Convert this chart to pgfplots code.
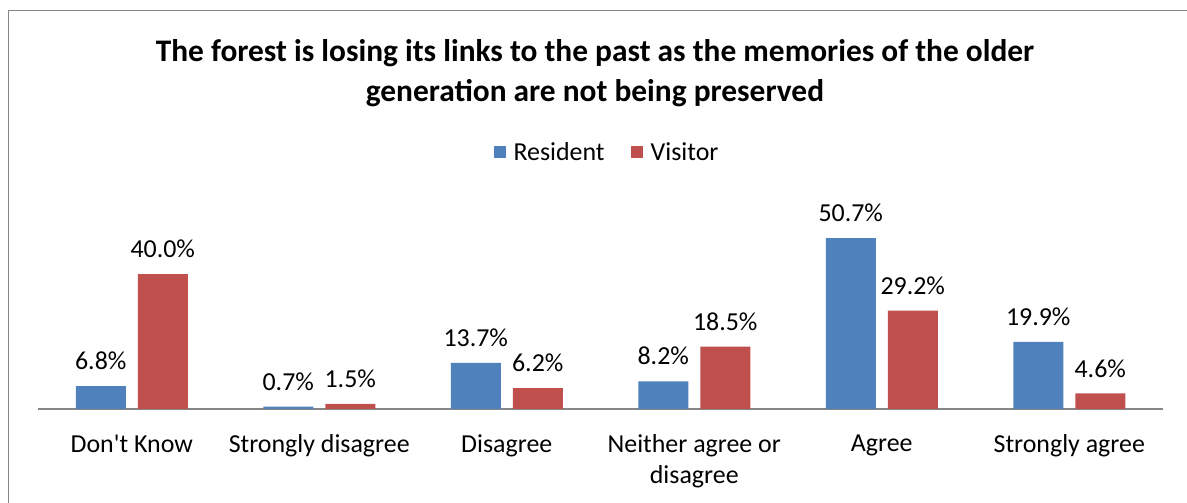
\documentclass[border=0pt]{standalone}
\usepackage{pgfplots}
\pgfplotsset{compat=1.18}
\usepackage{fontspec}
\setmainfont{Carlito}
\definecolor{resblue}{HTML}{4F81BD}
\definecolor{visred}{HTML}{C0504D}
\definecolor{framegray}{HTML}{868686}
\begin{document}
\begin{tikzpicture}[x=1bp,y=1bp]
\useasboundingbox (0,0) rectangle (1187,503);
\draw[framegray, line width=1.5bp] (8.5,0) -- (8.5,492.5) -- (1187,492.5);
\node[align=center, font=\fontsize{31.5}{40}\selectfont\bfseries] at (595,430)
  {The forest is losing its links to the past as the memories of the older\\generation are not being preserved};
\begin{axis}[
  at={(38bp,94bp)}, anchor=south west,
  scale only axis, width=1125bp, height=209bp,
  ymin=0, ymax=62, xmin=-0.5, xmax=5.5,
  axis x line=bottom, axis y line=none,
  x axis line style={-, framegray, line width=1.5bp},
  ybar=12bp, bar width=50bp,
  xtick={0,1,2,3,4,5},
  xticklabels={Don\textquotesingle t Know, Strongly disagree, Disagree, {Neither agree or\\disagree}, Agree, Strongly agree},
  major tick length=0pt,
  xticklabel style={align=center, font=\fontsize{26}{31}\selectfont, yshift=-22bp},
  /pgf/number format/assume math mode=true,
  nodes near coords={\pgfmathprintnumber[fixed,fixed zerofill,precision=1,assume math mode=true]{\pgfplotspointmeta}\%},
  every node near coord/.append style={font=\fontsize{26}{29}\selectfont, text=black, inner sep=0pt, yshift=16bp},
  legend style={draw=none, at={(569bp,257bp)}, anchor=center, font=\fontsize{26}{29}\selectfont,
     legend columns=2, /tikz/every even column/.append style={column sep=24bp},
     /tikz/every odd column/.append style={column sep=6bp}},
  legend image code/.code={\fill[#1] (0bp,-6bp) rectangle (12bp,6bp);},
  clip=false,
]
\addplot[fill=resblue, draw=none] coordinates {(0,6.8) (1,0.7) (2,13.7) (3,8.2) (4,50.7) (5,19.9)};
\addplot[fill=visred, draw=none] coordinates {(0,40.0) (1,1.5) (2,6.2) (3,18.5) (4,29.2) (5,4.6)};
\legend{Resident, Visitor}
\end{axis}
\end{tikzpicture}
\end{document}
